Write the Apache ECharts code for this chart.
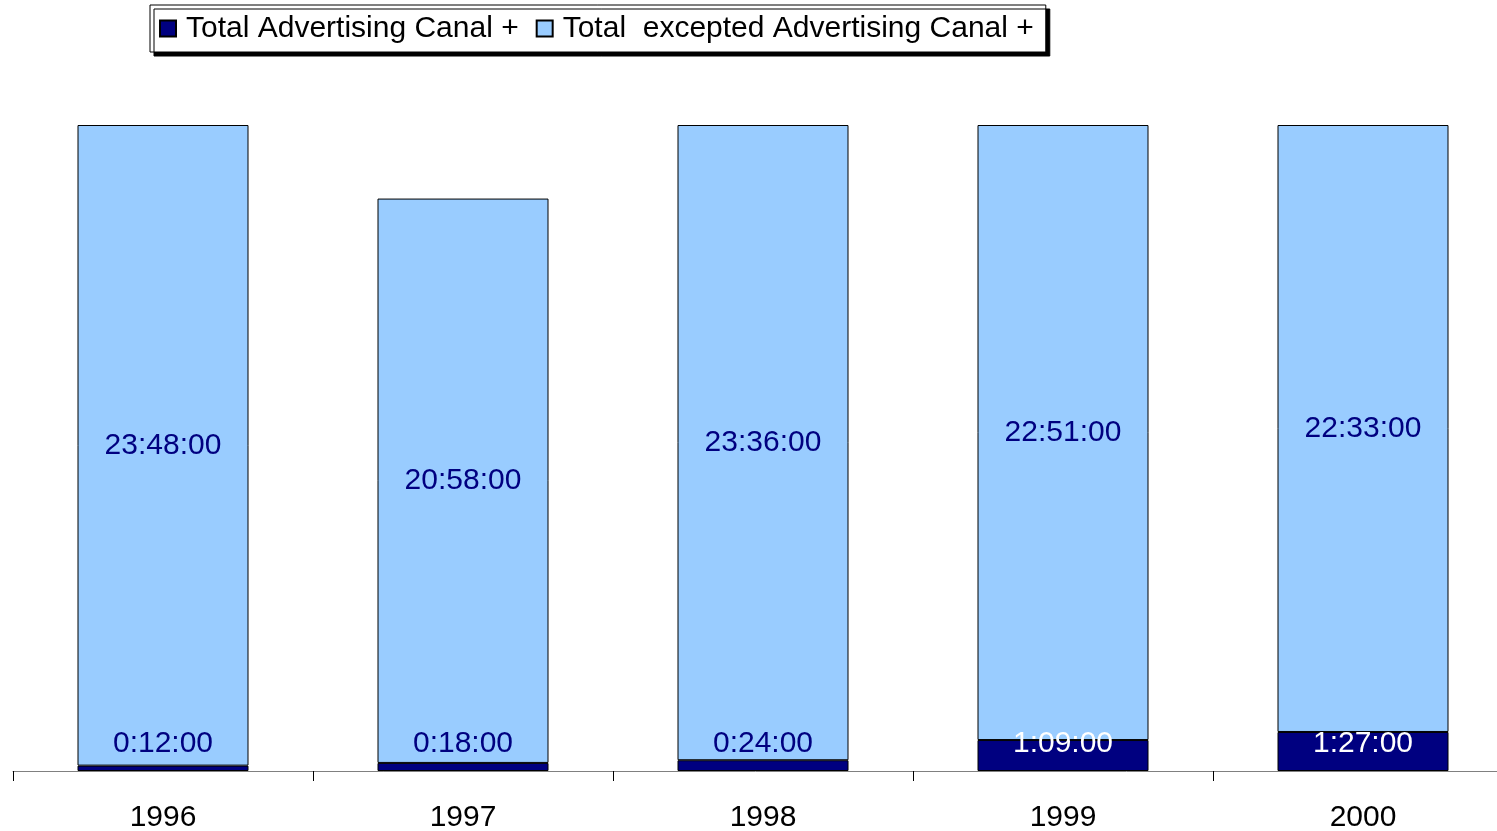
<!DOCTYPE html>
<html>
<head>
<meta charset="utf-8">
<script src="https://cdn.jsdelivr.net/npm/echarts@6/dist/echarts.min.js"></script>
<style>
html, body { margin: 0; padding: 0; background: #fff; }
#chart { width: 1497px; height: 831px; }
</style>
</head>
<body>
<div id="chart"></div>
<script>
// years and minutes per day
var years = ['1996', '1997', '1998', '1999', '2000'];
var advMinutes = [12, 18, 24, 69, 87];
var otherMinutes = [1428, 1258, 1416, 1371, 1353];

var FONT = '"Liberation Sans", Arial, sans-serif';

function fmt(min) {
    var h = Math.floor(min / 60);
    var m = min % 60;
    return h + ':' + (m < 10 ? '0' + m : m) + ':00';
}

var advData = advMinutes.map(function (v) {
    return { value: v, label: { color: v > 60 ? '#ffffff' : '#000080' } };
});

var myChart = echarts.init(document.getElementById('chart'));
myChart.setOption({
    animation: false,
    textStyle: { fontFamily: FONT },
    legend: {
        left: 150,
        top: 5,
        padding: [8, 12, 8, 9],
        itemWidth: 16,
        itemHeight: 16,
        itemGap: 17,
        icon: 'rect',
        backgroundColor: '#fff',
        borderColor: '#000',
        borderWidth: 1,
        shadowColor: '#000',
        shadowOffsetX: 4,
        shadowOffsetY: 4,
        shadowBlur: 0,
        textStyle: { fontSize: 30, lineHeight: 31, color: '#000', fontFamily: FONT, padding: [0, 0, 0, 5] },
        data: ['Total Advertising Canal +', 'Total  excepted Advertising Canal +']
    },
    grid: { left: 13, top: 125, width: 1500, height: 646, outerBoundsMode: 'none', containLabel: false },
    xAxis: {
        type: 'category',
        data: years,
        axisLine: { lineStyle: { color: '#808080', width: 1 } },
        axisTick: { show: true, length: 10, lineStyle: { color: '#000' } },
        axisLabel: { fontSize: 30, color: '#000', margin: 32, fontFamily: FONT }
    },
    yAxis: {
        type: 'value',
        min: 0,
        max: 1440,
        show: false,
        splitLine: { show: false }
    },
    series: [
        {
            name: 'Total Advertising Canal +',
            type: 'bar',
            stack: 'total',
            barWidth: '57%',
            data: advData,
            itemStyle: { color: '#000080', borderColor: '#000', borderWidth: 1 },
            label: {
                show: true,
                position: 'insideBottom',
                distance: 12,
                fontSize: 30,
                fontFamily: FONT,
                formatter: function (p) { return fmt(p.value); }
            },
            z: 3
        },
        {
            name: 'Total  excepted Advertising Canal +',
            type: 'bar',
            stack: 'total',
            data: otherMinutes,
            itemStyle: { color: '#99ccff', borderColor: '#000', borderWidth: 1 },
            label: {
                show: true,
                position: 'inside',
                fontSize: 30,
                color: '#000080',
                fontFamily: FONT,
                formatter: function (p) { return fmt(p.value); }
            },
            z: 2
        }
    ]
});
</script>
</body>
</html>
